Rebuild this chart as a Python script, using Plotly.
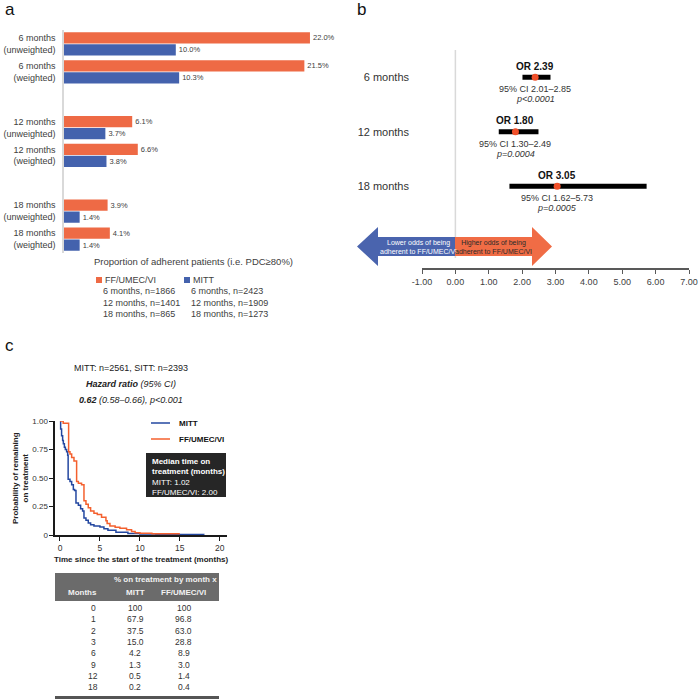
import plotly.graph_objects as go

W, H = 698, 699
FONT = "Liberation Sans, Arial, sans-serif"
ORANGE = "#EE6A45"
BLUE = "#4462AD"
KM_BLUE = "#2347A0"
KM_ORANGE = "#F4602E"
TXT = "#404040"


def px(x):
    return x / W


def py(y):
    return 1 - y / H


# ---- panel a: adherence ----
groups = ["6 months<br>(unweighted)", "6 months<br>(weighted)",
          "12 months<br>(unweighted)", "12 months<br>(weighted)",
          "18 months<br>(unweighted)", "18 months<br>(weighted)"]
ff_pct = [22.0, 21.5, 6.1, 6.6, 3.9, 4.1]
mitt_pct = [10.0, 10.3, 3.7, 3.8, 1.4, 1.4]
horizons = ["6 months", "12 months", "18 months"]
ff_n = [1866, 1401, 865]
mitt_n = [2423, 1909, 1273]

# ---- panel b: odds ratios ----
or_est = [2.39, 1.80, 3.05]
ci_lo = [2.01, 1.30, 1.62]
ci_hi = [2.85, 2.49, 5.73]
p_txt = ["p&lt;0.0001", "p=0.0004", "p=0.0005"]
or_ticks = [-1, 0, 1, 2, 3, 4, 5, 6, 7]

# ---- panel c: time on treatment ----
mitt_t = [0, 0.08, 0.2, 0.33, 0.42, 0.55, 0.67, 0.83, 0.96, 1.02, 1.25, 1.46, 1.67, 1.83,
          2.0, 2.3, 2.58, 2.83, 3.0, 3.25, 3.54, 3.83, 4.25, 5.0, 5.5, 6.0, 7.0, 8.5, 10.0,
          12.0, 18.0]
mitt_s = [1.0, 0.93, 0.87, 0.83, 0.80, 0.77, 0.75, 0.73, 0.70, 0.49, 0.47, 0.44, 0.40, 0.39,
          0.28, 0.26, 0.23, 0.21, 0.15, 0.13, 0.105, 0.09, 0.08, 0.07, 0.055, 0.042, 0.025,
          0.013, 0.008, 0.005, 0.002]
ff_t = [0, 0.4, 1.08, 1.25, 1.46, 1.75, 2.08, 2.3, 2.7, 3.0, 3.25, 3.54, 3.83, 4.25, 4.67,
        5.2, 5.75, 5.9, 6.25, 6.9, 7.5, 8.33, 8.96, 9.4, 10.0, 11.5, 15.0]
ff_s = [1.0, 0.98, 0.73, 0.71, 0.68, 0.65, 0.47, 0.455, 0.44, 0.30, 0.27, 0.24, 0.21, 0.19,
        0.18, 0.155, 0.125, 0.10, 0.08, 0.067, 0.06, 0.047, 0.03, 0.02, 0.015, 0.01, 0.01]
median_mitt, median_ff = 1.02, 2.00
tab_months = [0, 1, 2, 3, 6, 9, 12, 18]
tab_mitt = ["100", "67.9", "37.5", "15.0", "4.2", "1.3", "0.5", "0.2"]
tab_ff = ["100", "96.8", "63.0", "28.8", "8.9", "3.0", "1.4", "0.4"]

fig = go.Figure()

# panel a bars
for vals, col in [(ff_pct, ORANGE), (mitt_pct, BLUE)]:
    fig.add_trace(go.Bar(
        y=groups, x=vals, orientation="h", marker=dict(color=col, line=dict(width=0)),
        text=[f"{v:.1f}%" for v in vals], textposition="outside",
        textfont=dict(size=7.5, color=TXT), cliponaxis=False,
        xaxis="x", yaxis="y", showlegend=False,
    ))

# panel b forest
fig.add_trace(go.Scatter(
    x=or_est, y=horizons, mode="markers", xaxis="x2", yaxis="y2", showlegend=False,
    marker=dict(color="#F0502A", size=7),
    error_x=dict(type="data", symmetric=False,
                 array=[h - o for h, o in zip(ci_hi, or_est)],
                 arrayminus=[o - l for o, l in zip(or_est, ci_lo)],
                 color="black", thickness=5, width=0),
))

# panel c KM curves
km = [("MITT", mitt_t, mitt_s, KM_BLUE), ("FF/UMEC/VI", ff_t, ff_s, KM_ORANGE)]
for name, t, s, col in km:
    fig.add_trace(go.Scatter(x=t, y=s, mode="lines", line=dict(color=col, width=1.5, shape="hv"),
                             name=name, xaxis="x3", yaxis="y3", showlegend=False))

ann = []
shapes = []


def text(x, y, s, size=9, color=TXT, xanchor="center", **kw):
    ann.append(dict(x=px(x), y=py(y), xref="paper", yref="paper", text=s, showarrow=False,
                    xanchor=xanchor, yanchor="middle", font=dict(size=size, color=color, family=FONT), **kw))


# panel letters
text(3, 10, "a", 17, "#111", "left")
text(355, 10, "b", 17, "#111", "left")
text(3, 346, "c", 17, "#111", "left")

# panel a axis title and legend
text(193, 261, "Proportion of adherent patients (i.e. PDC≥80%)", 9.5)
for col, x0, name, ns in [(ORANGE, 96, "FF/UMEC/VI", ff_n), (BLUE, 184, "MITT", mitt_n)]:
    shapes.append(dict(type="rect", xref="paper", yref="paper", x0=px(x0), x1=px(x0 + 6),
                       y0=py(283), y1=py(277), fillcolor=col, line=dict(width=0)))
    text(x0 + 7, 280, name, 9, TXT, "left")
    for i, (h, n) in enumerate(zip(horizons, ns)):
        text(x0 + 5, 291.5 + 11 * i, f"{h}, n={n}", 9, TXT, "left")

# panel b annotations
for h, o, l, u, p in zip(horizons, or_est, ci_lo, ci_hi, p_txt):
    ann.append(dict(x=o, y=h, xref="x2", yref="y2", text=f"<b>OR {o:.2f}</b>", showarrow=False,
                    yshift=11, font=dict(size=10, color="#111", family=FONT)))
    ann.append(dict(x=o, y=h, xref="x2", yref="y2", text=f"95% CI {l:.2f}–{u:.2f}", showarrow=False,
                    yshift=-12, font=dict(size=9, color="#333", family=FONT)))
    ann.append(dict(x=o, y=h, xref="x2", yref="y2", text=f"<i>{p}</i>", showarrow=False,
                    yshift=-22, font=dict(size=9, color="#333", family=FONT)))

shapes.append(dict(type="line", xref="x2", yref="paper", x0=0, x1=0, y0=py(50), y1=py(258),
                   line=dict(color="#d9d9d9", width=1.5), layer="below"))
# direction arrows (pixel layout)
yt, yb, bt, bb = py(227), py(266), py(237), py(256)
ym = (yt + yb) / 2
shapes.append(dict(type="path", xref="paper", yref="paper", fillcolor="#4A64AE", line=dict(width=0),
                   path=f"M {px(357)},{ym} L {px(378)},{yt} L {px(378)},{bt} L {px(455)},{bt} "
                        f"L {px(455)},{bb} L {px(378)},{bb} L {px(378)},{yb} Z"))
shapes.append(dict(type="path", xref="paper", yref="paper", fillcolor="#F06C45", line=dict(width=0),
                   path=f"M {px(552)},{ym} L {px(532)},{yt} L {px(532)},{bt} L {px(455)},{bt} "
                        f"L {px(455)},{bb} L {px(532)},{bb} L {px(532)},{yb} Z"))
text(418, 246.5, "Lower odds of being<br>adherent to FF/UMEC/VI", 7, "white")
text(493, 246.5, "Higher odds of being<br>adherent to FF/UMEC/VI", 7, "#2a2a2a")

# panel c header text
text(131, 368, "MITT: n=2561, SITT: n=2393", 9, "#222")
text(131, 384, "<b><i>Hazard ratio</i></b><i> (95% CI)</i>", 9, "#222")
text(131, 400, "<b><i>0.62</i></b><i> (0.58–0.66), p&lt;0.001</i>", 9, "#222")

# KM legend
for i, (name, t, s, col) in enumerate(km):
    yy = 423 + 16 * i
    shapes.append(dict(type="line", xref="paper", yref="paper", x0=px(151), x1=px(170), y0=py(yy), y1=py(yy),
                       line=dict(color=col, width=1.5)))
    text(177, yy, f"<b>{name}</b>", 8, "#111", "left")

# median box
shapes.append(dict(type="rect", xref="paper", yref="paper", x0=px(146), x1=px(226), y0=py(497), y1=py(453),
                   fillcolor="#262626", line=dict(width=0)))
ann.append(dict(x=px(150), y=py(455), xref="paper", yref="paper", xanchor="left", yanchor="top", align="left",
                showarrow=False, font=dict(size=8, color="white", family=FONT),
                text=f"<b>Median time on<br>treatment (months)</b><br>MITT: {median_mitt:.2f}<br>FF/UMEC/VI: {median_ff:.2f}"))

# y title for KM
text(20, 478, "<b>Probability of remaining<br>on treatment</b>", 8, "#222", textangle=-90)

# table
shapes.append(dict(type="rect", xref="paper", yref="paper", x0=px(55), x1=px(219), y0=py(601), y1=py(573),
                   fillcolor="#6b6b6b", line=dict(width=0)))
shapes.append(dict(type="line", xref="paper", yref="paper", x0=px(55), x1=px(219), y0=py(697.5), y1=py(697.5),
                   line=dict(color="#555", width=3)))
text(165, 579.5, "<b>% on treatment by month x</b>", 8, "#f2f2f2")
text(82, 592, "<b>Months</b>", 8, "#f2f2f2")
text(135, 592, "<b>MITT</b>", 8, "#f2f2f2")
text(184, 592, "<b>FF/UMEC/VI</b>", 8, "#f2f2f2")
for i, (m, a, b) in enumerate(zip(tab_months, tab_mitt, tab_ff)):
    yy = 608 + 11.3 * i
    text(93, yy, str(m), 8.5, "#333")
    text(135, yy, a, 8.5, "#333")
    text(184, yy, b, 8.5, "#333")

fig.update_layout(
    width=W, height=H, margin=dict(l=0, r=0, t=0, b=0, autoexpand=False),
    paper_bgcolor="white", plot_bgcolor="white",
    font=dict(family=FONT, color=TXT),
    barmode="group", bargap=0.14, bargroupgap=0.06,
    annotations=ann, shapes=shapes,
    xaxis=dict(domain=[px(64), px(64 + 25 * 11.18)], range=[0, 25], visible=False, anchor="y"),
    yaxis=dict(domain=[py(253), py(30)], type="category",
               categoryarray=[groups[0], groups[1], " ", groups[2], groups[3], "  ", groups[4], groups[5]],
               range=[7.5, -0.5], showline=True, linecolor="#d9d9d9", linewidth=1.5, ticks="",
               tickfont=dict(size=9, color=TXT), ticklabelstandoff=5, showgrid=False, zeroline=False,
               anchor="x", automargin=False),
    xaxis2=dict(domain=[px(422), px(689)], range=[-1, 7], anchor="y2", showline=True, linecolor="#595959",
                linewidth=1.5, ticks="outside", ticklen=4, tickcolor="#595959", tickvals=or_ticks,
                ticktext=[f"{v:.2f}" for v in or_ticks], tickfont=dict(size=9, color=TXT),
                ticklabeloverflow="allow", showgrid=False, zeroline=False, automargin=False),
    yaxis2=dict(domain=[py(268), py(50)], type="category", categoryarray=horizons, range=[3.5, -0.5],
                anchor="x2", showline=False, ticks="", tickfont=dict(size=11, color="#333"),
                ticklabelstandoff=12, showgrid=False, zeroline=False, automargin=False),
    xaxis3=dict(domain=[px(55.2), px(227)], range=[-0.6, 20.9], anchor="y3", showline=True,
                linecolor="#1a1a1a", linewidth=1.5, ticks="outside", ticklen=4, tickcolor="#1a1a1a",
                tickvals=[0, 5, 10, 15, 20], tickfont=dict(size=8.5, color="#333"), showgrid=False,
                zeroline=False, automargin=False,
                title=dict(text="<b>Time since the start of the treatment (months)</b>", standoff=4,
                           font=dict(size=8, color="#222"))),
    yaxis3=dict(domain=[py(535), py(421)], range=[0, 1.0], anchor="x3", showline=True,
                linecolor="#1a1a1a", linewidth=1.5, ticks="outside", ticklen=4, tickcolor="#1a1a1a",
                tickvals=[0, 0.25, 0.5, 0.75, 1.0], ticktext=["0", "0.25", "0.50", "0.75", "1.00"],
                tickfont=dict(size=8, color="#333"), showgrid=False, zeroline=False, automargin=False),
)

# pin the 698x699 figure to the window corner so the page never scrolls
pin = ("var d=document.getElementById('{plot_id}');d.style.position='fixed';d.style.top='0';"
       "d.style.left='0';document.body.style.margin='0';document.documentElement.style.overflow='hidden';")
fig.write_html("out.html", config={"displayModeBar": False}, post_script=pin)
